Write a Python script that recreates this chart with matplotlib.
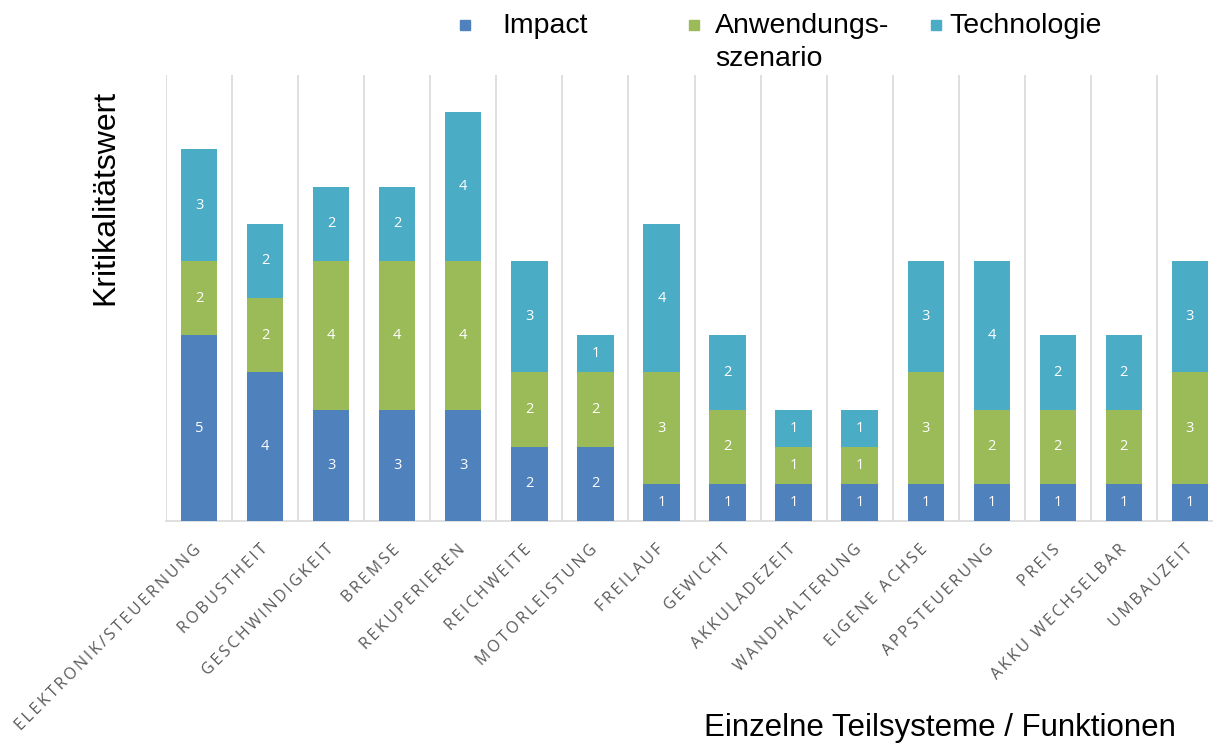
import matplotlib
matplotlib.use("Agg")
import matplotlib.pyplot as plt
from matplotlib.patches import Rectangle
import numpy as np

# Data
categories = ["ELEKTRONIK/STEUERNUNG", "ROBUSTHEIT", "GESCHWINDIGKEIT", "BREMSE",
              "REKUPERIEREN", "REICHWEITE", "MOTORLEISTUNG", "FREILAUF", "GEWICHT",
              "AKKULADEZEIT", "WANDHALTERUNG", "EIGENE ACHSE", "APPSTEUERUNG",
              "PREIS", "AKKU WECHSELBAR", "UMBAUZEIT"]
impact = [5, 4, 3, 3, 3, 2, 2, 1, 1, 1, 1, 1, 1, 1, 1, 1]
anwendung = [2, 2, 4, 4, 4, 2, 2, 3, 2, 1, 1, 3, 2, 2, 2, 3]
technologie = [3, 2, 2, 2, 4, 3, 1, 4, 2, 1, 1, 3, 4, 2, 2, 3]
series_names = ["Impact", "Anwendungs-\nszenario", "Technologie"]
colors = ["#4F81BD", "#9BBB59", "#4BACC6"]

W, H = 1213, 747
fig = plt.figure(figsize=(W / 100, H / 100), dpi=100)
ax = fig.add_axes([166 / W, 226 / H, 1057 / W, 446 / H])

x = np.arange(len(categories))
bottom = np.zeros(len(categories))
for vals, col in zip([impact, anwendung, technologie], colors):
    vals = np.array(vals, dtype=float)
    ax.bar(x, vals, width=0.55, bottom=bottom, color=col, zorder=3)
    for xi, b, v in zip(x, bottom, vals):
        ax.text(xi, b + v / 2, f"{int(v)}", ha="center", va="center",
                color="white", fontsize=10.5, family=["Open Sans", "DejaVu Sans"], zorder=4)
    bottom += vals

ax.set_xlim(-0.5, len(categories) - 0.5)
ax.set_ylim(0, 12)
ax.set_yticks([])
ax.set_xticks(np.arange(-0.5, len(categories)), minor=True)
ax.grid(which="minor", axis="x", color="#D9D9D9", linewidth=1.2, zorder=0)
for s in ["top", "right", "left"]:
    ax.spines[s].set_visible(False)
ax.spines["bottom"].set_color("#D9D9D9")
ax.spines["bottom"].set_linewidth(1.2)
ax.tick_params(axis="x", which="both", length=0, pad=19)


def spaced(s):
    return "\u2009".join(s)


ax.set_xticks(x)
ax.set_xticklabels([spaced(c) for c in categories], rotation=45, ha="right",
                   va="center", rotation_mode="anchor", color="#595959",
                   fontsize=11.5, family=["Open Sans", "DejaVu Sans"])

# Legend drawn in figure coordinates
leg_font = dict(fontsize=20.5, family=["Liberation Sans", "DejaVu Sans"], color="black")
leg_sq = [465, 694, 936]
leg_tx = [502, 715, 949]
for sx, tx, name, col in zip(leg_sq, leg_tx, series_names, colors):
    fig.patches.append(Rectangle(((sx - 5) / W, 1 - 30 / H), 10 / W, 10 / H,
                                 transform=fig.transFigure, color=col))
    fig.text(tx / W, 1 - 13 / H, name, ha="left", va="top", linespacing=1.35, **leg_font)

fig.text(105 / W, 1 - 197 / H, "Kritikalitätswert", rotation=90, ha="center", va="center",
         fontsize=23, family=["Liberation Sans", "DejaVu Sans"])
fig.text(940 / W, 1 - 728 / H, "Einzelne Teilsysteme / Funktionen", ha="center", va="center",
         fontsize=22.5, family=["Liberation Sans", "DejaVu Sans"])

fig.savefig("out.png", dpi=100)
